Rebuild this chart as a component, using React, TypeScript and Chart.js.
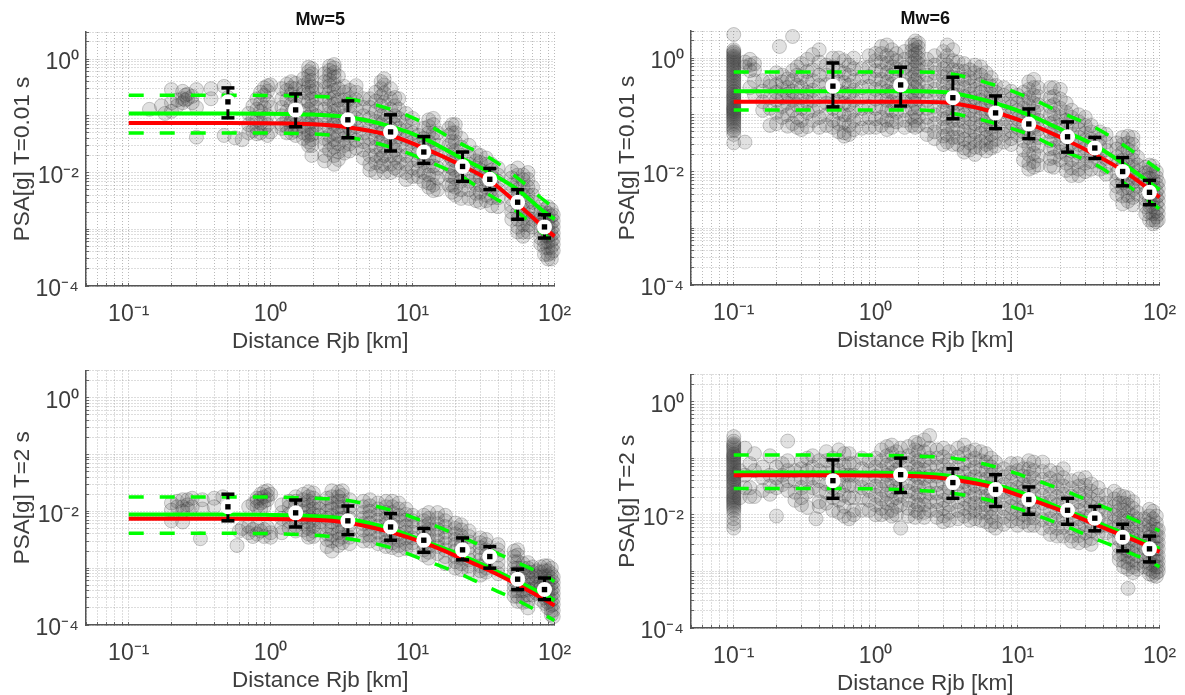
import React, { useEffect, useRef } from "react";
import { Chart, registerables } from "chart.js";

Chart.register(...registerables);

// distances of the binned statistics and of the read curve vertices
const binX = [0.5, 1.5, 3.5, 7, 12, 22.5, 35, 55, 85];
const curveX = [0.1, 0.5, 2, 3.5, 7, 12, 22, 35, 55, 85, 100];
const xTickValues = [0.05, 0.06, 0.07, 0.08, 0.09, 0.1, 0.2, 0.3, 0.4, 0.5, 0.6, 0.7, 0.8, 0.9, 1, 2, 3, 4, 5, 6, 7, 8, 9, 10, 20, 30, 40, 50, 60, 70, 80, 90, 100];
const yTickValues = [1e-4, 2e-4, 3e-4, 4e-4, 5e-4, 6e-4, 7e-4, 8e-4, 9e-4, 1e-3, 2e-3, 3e-3, 4e-3, 5e-3, 6e-3, 7e-3, 8e-3, 9e-3, 1e-2, 2e-2, 3e-2, 4e-2, 5e-2, 6e-2, 7e-2, 8e-2, 9e-2, 0.1, 0.2, 0.3, 0.4, 0.5, 0.6, 0.7, 0.8, 0.9, 1, 2, 3];
const xTickLabels: Record<string, string> = { "0.1": "10⁻¹", "1": "10⁰", "10": "10¹", "100": "10²" };
const yTickLabels: Record<string, string> = { "0.0001": "10⁻⁴", "0.01": "10⁻²", "1": "10⁰" };

// Mw=5, T=0.01 s
const a_mean = [0.176, 0.127, 0.085, 0.052, 0.023, 0.0128, 0.0076, 0.003, 0.0011];
const a_hi = [0.31, 0.243, 0.183, 0.104, 0.043, 0.023, 0.0118, 0.005, 0.0018];
const a_lo = [0.092, 0.064, 0.041, 0.024, 0.0145, 0.007, 0.005, 0.0015, 0.0007];
const a_red = [0.075, 0.075, 0.071, 0.063, 0.045, 0.027, 0.0135, 0.0072, 0.0028, 0.00105, 0.00075];
const a_green = [0.11, 0.11, 0.105, 0.095, 0.065, 0.04, 0.018, 0.01, 0.005, 0.002, 0.0015];
const a_up = [0.23, 0.23, 0.22, 0.2, 0.13, 0.075, 0.032, 0.018, 0.008, 0.0032, 0.0024];
const a_low = [0.05, 0.05, 0.048, 0.042, 0.028, 0.017, 0.0085, 0.004, 0.002, 0.0008, 0.0006];
const a_points = [[.14,.13],[.17,.15],[.18,.11],[.2,.29,.12,.17],[.22,.19,.15],[.24,.27,.2,.17],[.25,.23,.19],[.26,.2,.24],[.28,.17,.22],[.3,.29,.14,.042],[.38,.3,.2],[.47,.33,.045],[.5,.21],[.56,.041],[.63,.038],[.7,.11,.07,.05],[.75,.15,.09,.055],[.8,.2,.13,.085,.06,.048],[.85,.26,.17,.12,.075,.05],[.9,.31,.23,.14,.09,.06],[.95,.34,.27,.18,.1,.07,.045],[1,.35,.14,.052],[1.2,.3,.2,.14,.1,.07,.06],[1.3,.36,.28,.19,.12,.085,.065,.05],[1.4,.4,.31,.24,.16,.11,.08,.06,.05],[1.5,.37,.3,.21,.15,.1,.07,.055,.045],[1.7,.45,.34,.26,.18,.12,.09,.065,.05,.04],[1.85,.72,.6,.5,.4,.32,.25,.18,.13,.095,.07,.055,.045,.035,.03],[1.95,.68,.55,.42,.33,.27,.2,.15,.11,.08,.06,.047,.038,.03,.02],[2.1,.3,.2,.14,.1,.07,.05],[2.4,.55,.4,.3,.2,.13,.09,.06,.04,.03,.02,.016],[2.6,.75,.63,.52,.42,.34,.26,.2,.15,.11,.08,.06,.045,.035,.025],[2.8,.8,.7,.58,.48,.36,.28,.21,.16,.12,.09,.07,.05,.038,.028,.02,.014],[3,.5,.3,.19,.13,.09,.065,.045,.032,.023,.017],[3.3,.33,.26,.19,.14,.1,.075,.055,.04,.03,.022],[3.6,.28,.2,.15,.11,.08,.06,.045,.032,.024],[4,.34,.26,.19,.13,.09,.065,.05,.037,.027],[4.5,.2,.14,.1,.07,.05,.035,.025,.018],[5,.2,.14,.09,.06,.04,.03,.02,.014,.011],[5.5,.26,.18,.12,.08,.055,.04,.028,.02,.015,.01],[6,.4,.3,.22,.15,.1,.07,.05,.036,.025,.018,.013],[6.3,.45,.35,.25,.17,.11,.08,.055,.04,.028,.02,.014,.01],[7,.3,.2,.13,.09,.06,.04,.03,.02,.014,.01],[7.5,.21,.15,.1,.07,.05,.035,.025,.018,.012],[8,.2,.13,.09,.06,.043,.03,.02,.015,.011],[9,.11,.08,.055,.04,.028,.02,.014,.01,.0075],[10,.09,.07,.05,.035,.025,.017,.012,.0085],[11,.045,.03,.022,.016,.011,.0085],[12,.06,.04,.028,.02,.015,.01,.007],[13,.085,.065,.05,.035,.025,.018,.013,.009,.0065,.0055],[14,.09,.07,.05,.038,.026,.018,.013,.009,.006,.0048],[15,.05,.03,.02,.012,.008,.005],[18,.06,.045,.03,.02,.013,.009,.006],[19,.07,.05,.035,.025,.017,.012,.0085,.006,.0045],[20,.07,.05,.035,.024,.016,.011,.008,.0055,.004],[22,.04,.028,.02,.014,.01,.007,.005,.0035],[25,.03,.02,.014,.01,.007,.005,.0035],[28,.022,.016,.012,.0085,.006,.0043,.0032],[30,.02,.015,.011,.008,.006,.0045,.003],[33,.018,.014,.01,.0075,.0055,.004,.0032],[36,.014,.011,.0085,.0065,.005,.0036,.0026],[40,.012,.009,.007,.005,.0036,.0025],[50,.0105,.008,.006,.0045,.0034,.0026,.002,.0015],[55,.012,.009,.0068,.005,.0037,.0028,.002,.0015,.0011,.0009],[60,.009,.0075,.0055,.004,.003,.0022,.0016,.0012,.0009,.00075],[65,.01,.0075,.0055,.004,.003,.0022,.0016,.0012,.0009],[70,.0055,.004,.003,.002,.0015,.0011],[80,.0025,.002,.0015,.0012,.0009,.0007,.00055],[85,.0022,.0017,.0013,.001,.00078,.0006,.00048,.00036],[90,.0025,.0019,.0015,.0012,.00095,.00075,.0006,.00047,.00036,.0003],[95,.0022,.0017,.0013,.001,.0008,.00062,.00048,.00038,.0003],[98,.0018,.0014,.0011,.00085,.00068,.00054,.00042]];

// Mw=6, T=0.01 s
const b_mean = [0.32, 0.336, 0.2, 0.108, 0.069, 0.041, 0.026, 0.01, 0.0043];
const b_hi = [0.82, 0.69, 0.46, 0.215, 0.127, 0.075, 0.04, 0.0176, 0.007];
const b_lo = [0.138, 0.143, 0.085, 0.057, 0.038, 0.022, 0.017, 0.0056, 0.0026];
const b_red = [0.17, 0.17, 0.17, 0.16, 0.11, 0.07, 0.036, 0.02, 0.0105, 0.0048, 0.0035];
const b_green = [0.26, 0.26, 0.26, 0.24, 0.16, 0.1, 0.05, 0.029, 0.014, 0.0064, 0.0048];
const b_up = [0.57, 0.57, 0.57, 0.52, 0.33, 0.2, 0.1, 0.06, 0.03, 0.014, 0.0105];
const b_low = [0.122, 0.122, 0.122, 0.105, 0.07, 0.045, 0.022, 0.0135, 0.0065, 0.003, 0.0022];
const b_points = [[.1,2.6,1.4,1.3,1.25,1.18,1.1,1.05,1,.95,.9,.85,.8,.75,.7,.66,.62,.58,.55,.51,.48,.45,.42,.39,.37,.34,.32,.3,.28,.26,.25,.23,.22,.21,.2,.19,.18,.17,.16,.15,.145,.135,.13,.125,.12,.115,.11,.105,.1,.095,.09,.085,.08,.075,.07,.065,.06,.055,.052,.045,.032],[.12,.85,.7,.033],[.13,.95,.75,.6,.3],[.14,.8,.62,.4,.22],[.16,.4,.26,.17,.12],[.18,.38,.32,.2,.13,.065],[.2,.55,.34,.25,.18,.11,.07],[.21,1.6],[.22,.5,.38,.28,.2,.14,.09],[.24,.43,.3,.23,.16,.1,.063],[.26,2.4,.6,.4,.26,.18,.12,.07],[.28,.7,.5,.33,.21,.15,.09,.06],[.3,.8,.45,.3,.2,.13,.08,.055],[.33,.95,.58,.38,.25,.17,.11,.062],[.36,1.15,.62,.4,.27,.18,.12,.08],[.4,1.4,.85,.5,.33,.21,.14,.09,.06],[.45,.75,.5,.34,.24,.16,.1,.065],[.5,1,.7,.45,.3,.2,.13,.08,.06],[.55,1,.6,.38,.26,.17,.11,.07,.05],[.6,.9,.55,.37,.24,.16,.1,.075,.048,.042],[.65,.75,.5,.33,.23,.15,.1,.065,.045],[.7,1,.65,.4,.27,.18,.12,.08,.055],[.8,.65,.45,.3,.2,.13,.085,.058],[.9,1.1,.7,.47,.32,.21,.14,.09,.06],[1,1.2,.9,.6,.42,.28,.19,.13,.085,.06],[1.1,1.6,1.2,.85,.6,.42,.3,.2,.14,.09,.065],[1.2,1.7,1.1,.8,.55,.38,.26,.18,.12,.08,.055],[1.3,1.4,1,.7,.5,.35,.25,.17,.12,.08,.06],[1.4,1.2,.9,.65,.45,.32,.22,.16,.11,.075],[1.6,1.3,.95,.68,.48,.34,.24,.17,.12,.08,.06],[1.8,1.7,1.35,1.05,.8,.6,.45,.34,.25,.18,.13,.09,.065],[1.9,2,1.7,1.4,1.15,.9,.7,.52,.4,.3,.22,.16,.11,.08,.06],[2,1.85,1.55,1.25,1,.8,.62,.47,.35,.26,.19,.13,.09,.065],[2.3,.95,.7,.5,.36,.26,.18,.13,.09,.065,.045],[2.6,1.1,.75,.55,.4,.28,.2,.14,.1,.07,.05,.038],[3,1.3,.9,.65,.47,.34,.24,.17,.12,.085,.06,.042,.03],[3.2,1.7,1.1,.75,.52,.37,.26,.18,.13,.09,.062,.045,.033],[3.5,1.4,.9,.62,.45,.32,.23,.16,.11,.08,.056,.04,.03],[3.8,.85,.6,.44,.31,.22,.16,.11,.08,.056,.04,.03],[4.2,.8,.58,.42,.3,.21,.15,.1,.075,.052,.037,.026,.022],[4.6,.62,.45,.32,.23,.17,.12,.085,.06,.043,.032,.024],[5,.75,.55,.4,.28,.2,.14,.1,.07,.05,.036,.027,.02],[5.5,.7,.5,.35,.25,.18,.13,.09,.065,.047,.034,.026],[6,.55,.4,.28,.2,.15,.1,.075,.055,.04,.03,.023],[6.5,.45,.32,.23,.17,.12,.085,.06,.045,.033,.026],[7,.33,.25,.18,.13,.095,.07,.05,.037,.028],[8,.3,.22,.16,.115,.085,.06,.045,.033],[9,.26,.19,.14,.1,.072,.052,.038,.03],[10,.22,.16,.12,.085,.06,.044],[11,.25,.18,.13,.095,.07,.05,.035,.024,.016],[12,.38,.28,.2,.145,.1,.075,.055,.04,.028,.02,.014,.011],[13,.42,.3,.22,.16,.115,.085,.06,.043,.03,.021,.015,.012],[14,.3,.21,.15,.11,.08,.056,.04,.028,.019,.013],[17,.3,.2,.14,.1,.07,.05,.035,.025,.017,.0125],[18,.3,.21,.15,.105,.075,.052,.037,.026,.018,.012],[20,.28,.19,.13,.09,.065,.045,.032,.022,.016],[22,.16,.11,.08,.056,.04,.028,.02,.014,.0105],[24,.12,.09,.065,.045,.032,.023,.016,.0115,.0085],[27,.1,.075,.055,.04,.03,.021,.015,.011,.0085],[30,.09,.065,.048,.036,.026,.019,.014,.01],[33,.065,.05,.037,.028,.02,.015,.011],[38,.05,.037,.028,.02,.015,.011],[42,.045,.033,.024,.017,.012,.009],[50,.032,.025,.018,.013,.0095,.007,.0055,.004],[55,.04,.03,.022,.016,.012,.0088,.0065,.005,.0037,.0027],[60,.042,.032,.024,.017,.013,.0095,.007,.0052,.0038,.003],[65,.04,.03,.022,.016,.012,.0088,.0065,.0048,.0035,.0026],[70,.018,.013,.01,.0075,.0055,.004],[80,.012,.0095,.0072,.0055,.0042,.0032,.0024,.0018],[85,.013,.01,.0075,.0058,.0044,.0033,.0025,.0019,.0014],[90,.0125,.0095,.0072,.0055,.0042,.0032,.0024,.0018,.0014,.0012],[95,.01,.008,.006,.0045,.0035,.0027,.002,.0016,.0013],[98,.0065,.005,.0038,.003,.0023,.0018,.0014]];

// Mw=5, T=2 s
const c_mean = [0.012, 0.0094, 0.0068, 0.0053, 0.0031, 0.0021, 0.0016, 0.00064, 0.00042];
const c_hi = [0.02, 0.0158, 0.0124, 0.0091, 0.005, 0.0034, 0.0024, 0.00096, 0.00067];
const c_lo = [0.0068, 0.0053, 0.0039, 0.0031, 0.0019, 0.0014, 0.001, 0.00042, 0.00028];
const c_red = [0.0074, 0.0074, 0.0071, 0.0063, 0.0043, 0.0028, 0.0015, 0.0009, 0.00051, 0.00028, 0.00022];
const c_green = [0.0088, 0.0088, 0.0082, 0.0073, 0.0049, 0.003, 0.0017, 0.001, 0.00058, 0.00034, 0.00027];
const c_up = [0.0179, 0.0179, 0.017, 0.0155, 0.0105, 0.0066, 0.0036, 0.0021, 0.00125, 0.00075, 0.00058];
const c_low = [0.0041, 0.0041, 0.0038, 0.0033, 0.0023, 0.0014, 0.00078, 0.00045, 0.00027, 0.00015, 0.00012];
const c_points = [[.2,.014,.0105,.0068],[.22,.015,.012],[.24,.016,.012,.01,.0065],[.26,.016,.013,.011],[.28,.017,.012],[.32,.0033],[.33,.016,.011],[.4,.017,.012],[.46,.018],[.58,.0025],[.6,.0045],[.63,.005],[.7,.012,.0055,.0042],[.75,.0135,.0048,.0036],[.8,.017,.015,.012,.0055,.004],[.85,.02,.017,.014,.011,.0045],[.9,.022,.018,.015,.012,.0048,.0036],[.95,.023,.019,.016,.0052],[1,.02,.0042,.0035],[1.2,.013,.0095,.0075,.0052,.0042],[1.35,.015,.012,.009,.0068,.005],[1.5,.018,.015,.012,.0095,.007,.0055,.0045],[1.7,.02,.016,.013,.01,.0078,.006,.0047],[1.85,.022,.018,.015,.012,.01,.008,.0065,.005,.004,.0035],[2,.021,.017,.014,.011,.009,.007,.0055,.0045,.0036],[2.2,.014,.011,.0085,.0065,.005],[2.5,.017,.013,.01,.0075,.0055,.004,.0032,.0024],[2.7,.023,.018,.014,.011,.0085,.0065,.005,.0038,.003,.002],[3,.022,.018,.015,.012,.0095,.0072,.0055,.0042,.0032,.0025],[3.2,.023,.019,.015,.012,.0095,.0075,.0058,.0045,.0035,.0028],[3.6,.016,.012,.0095,.0075,.0058,.0045,.0035,.0027],[4.5,.015,.012,.0095,.0075,.006,.0047,.0037,.003],[5,.016,.0125,.01,.008,.0062,.0049,.0038,.003],[5.7,.014,.011,.0088,.007,.0055,.0043,.0034,.0027],[6.5,.015,.012,.0095,.0075,.006,.0047,.0037,.0029,.0024],[7.2,.015,.012,.0095,.0074,.0058,.0045,.0035,.0028,.0023],[8,.014,.011,.0085,.0068,.0052,.004,.0031,.0025,.0021],[9,.011,.0088,.007,.0055,.0043,.0034,.0027,.0022],[10,.0085,.0068,.0054,.0043,.0034,.0028,.0022],[12,.0085,.0068,.0054,.0043,.0034,.0027,.0021,.0017],[13,.0095,.0075,.006,.0048,.0038,.003,.0024,.0019,.0015],[15,.0095,.0075,.006,.0048,.0038,.003,.0024,.0018],[17,.0085,.0068,.0054,.0043,.0034,.0027,.0021,.0016,.0012],[20,.0062,.005,.004,.0032,.0026,.002,.0016,.0013,.001],[22,.0058,.0047,.0037,.003,.0024,.0019,.0015,.0012,.00095],[25,.0045,.0036,.0029,.0023,.0018,.0014,.0011,.0009],[30,.0034,.0028,.0023,.0018,.0014,.0011,.0009,.00075],[33,.0032,.0026,.0021,.0017,.0013,.001,.00085],[40,.0026,.0021,.0017,.0013,.001,.0008],[52,.002,.0016,.0013,.001,.0008,.00062,.0005,.0004,.00032],[55,.0021,.0017,.0013,.001,.00082,.00065,.0005,.0004,.00032,.00026],[60,.0012,.001,.0008,.00063,.0005,.0004,.00032,.00025],[65,.00125,.001,.00085,.00068,.00054,.00042,.00034,.00026,.0002],[70,.00105,.00085,.00068,.00054,.00043,.00034],[75,.0009,.00072,.00058,.00046,.00036],[80,.00105,.00085,.0007,.00055,.00045,.00036,.00028],[85,.0011,.0009,.00072,.00058,.00046,.00037,.0003,.00024],[90,.0011,.0009,.00073,.00059,.00048,.00039,.00031,.00025,.0002],[95,.001,.0008,.00065,.00052,.00042,.00034,.00027,.00022,.00018,.00015],[98,.0007,.00056,.00045,.00036,.00029,.00023,.00018,.00014]];

// Mw=6, T=2 s
const d_mean = [0.04, 0.051, 0.037, 0.028, 0.0186, 0.012, 0.0087, 0.004, 0.0025];
const d_hi = [0.093, 0.1, 0.065, 0.051, 0.031, 0.0195, 0.014, 0.0068, 0.0042];
const d_lo = [0.0195, 0.0247, 0.0195, 0.014, 0.0102, 0.0068, 0.0052, 0.0023, 0.00147];
const d_red = [0.05, 0.05, 0.048, 0.042, 0.03, 0.019, 0.011, 0.0068, 0.0043, 0.0027, 0.0022];
const d_green = [0.056, 0.056, 0.053, 0.048, 0.034, 0.022, 0.012, 0.0076, 0.0048, 0.003, 0.0025];
const d_up = [0.114, 0.114, 0.108, 0.1, 0.07, 0.045, 0.026, 0.016, 0.01, 0.0062, 0.0052];
const d_low = [0.029, 0.029, 0.027, 0.024, 0.017, 0.011, 0.0062, 0.0038, 0.0024, 0.0015, 0.0012];
const d_points = [[.1,.24,.2,.18,.17,.16,.15,.14,.13,.12,.115,.11,.105,.1,.095,.09,.085,.08,.075,.07,.066,.062,.058,.055,.052,.05,.047,.044,.042,.04,.037,.035,.033,.031,.029,.027,.025,.024,.022,.021,.02,.019,.018,.017,.016,.015,.014,.013,.012,.0105,.0085,.007,.0058],[.11,.06,.02],[.12,.15,.05,.03],[.13,.08,.03,.021],[.14,.12,.06,.021],[.16,.07,.045,.027],[.18,.11,.05,.032,.023],[.2,.07,.045,.03,.0095],[.22,.08,.05,.034],[.24,.09,.06,.04,.027,.2],[.27,.06,.04,.025,.018],[.3,.09,.065,.045,.03,.02,.015],[.33,.1,.06,.04,.025,.0135],[.36,.11,.07,.045,.03],[.38,.0085],[.4,.09,.06,.04,.027,.017,.014],[.45,.13,.09,.055,.035,.025,.016],[.5,.1,.07,.045,.03,.02,.012],[.55,.14,.09,.06,.04,.027,.018,.011],[.6,.12,.075,.05,.033,.022,.014,.0095],[.65,.12,.08,.05,.033,.02,.0085],[.7,.08,.05,.033,.02,.012,.01],[.8,.1,.065,.042,.03,.02,.012],[.9,.09,.06,.04,.027,.018,.012],[1,.1,.07,.048,.032,.022,.015,.01],[1.1,.14,.09,.06,.04,.028,.019,.013,.01],[1.2,.16,.11,.075,.05,.034,.023,.016,.011],[1.3,.17,.12,.08,.055,.038,.026,.018,.012,.0095],[1.4,.13,.09,.062,.043,.03,.02,.014,.01],[1.5,.15,.1,.07,.048,.032,.022,.015,.0058],[1.7,.16,.11,.08,.055,.037,.026,.018,.013,.0095],[1.9,.19,.14,.1,.07,.05,.034,.024,.017,.012,.009],[2,.18,.13,.09,.065,.045,.031,.022,.015,.011],[2.2,.21,.13,.09,.062,.044,.03,.021,.015,.011,.009],[2.4,.25,.15,.1,.07,.048,.034,.024,.017,.012],[2.7,.14,.1,.07,.048,.034,.024,.017,.012,.009],[3,.15,.105,.074,.052,.036,.025,.018,.013,.0095,.0075],[3.3,.13,.09,.062,.043,.03,.021,.015,.011,.008],[3.8,.15,.105,.07,.05,.035,.025,.017,.012,.0085],[4.2,.17,.12,.08,.055,.038,.027,.019,.013,.0095],[4.6,.13,.09,.06,.042,.03,.021,.015,.011,.008],[5,.14,.1,.068,.047,.033,.023,.016,.012,.0085],[5.5,.13,.09,.062,.043,.03,.021,.015,.011,.008],[6,.12,.085,.06,.042,.03,.021,.015,.011,.0075],[6.5,.1,.07,.05,.035,.025,.018,.013,.009,.0065],[7,.085,.06,.043,.03,.021,.015,.011,.0075,.0058],[8,.065,.047,.034,.025,.018,.013,.009,.0068],[9,.08,.055,.04,.028,.02,.014,.0105,.0078],[10,.08,.06,.042,.03,.022,.016,.012,.0085,.0065],[11,.065,.048,.035,.026,.019,.014,.01,.0075],[12,.09,.065,.047,.034,.024,.017,.012,.0088,.0065],[13,.085,.06,.044,.032,.023,.017,.012,.0088,.0065],[15,.085,.058,.042,.03,.022,.016,.011,.0082,.0058],[17,.06,.044,.032,.023,.017,.012,.0085,.006,.0045],[19,.055,.04,.03,.021,.015,.011,.008,.0058,.0042],[21,.065,.045,.032,.023,.017,.012,.0085,.006,.0042],[24,.04,.029,.021,.015,.011,.008,.0058,.0042,.0034],[27,.043,.032,.023,.017,.012,.0085,.006,.0043,.0032],[30,.045,.033,.024,.018,.013,.0092,.0067,.0048,.0035],[33,.035,.026,.019,.014,.01,.0072,.0052,.0038,.003],[37,.03,.022,.016,.012,.0085,.006,.0045],[42,.022,.016,.012,.0088,.0065,.0048],[48,.026,.019,.014,.01,.0075,.0055,.004],[52,.022,.016,.012,.0088,.0065,.0048,.0036,.0027,.002,.0016],[56,.021,.016,.012,.0086,.0062,.0046,.0034,.0026,.002,.0015,.0012],[60,.02,.015,.011,.008,.0058,.0042,.0031,.0023,.0018,.0014,.0011,.0005],[65,.017,.013,.0095,.007,.005,.0037,.0028,.0021,.0016,.0012,.00095],[70,.011,.0085,.0062,.0046,.0034,.0025,.0019,.0014,.0011],[78,.0085,.0065,.0048,.0036,.0027,.002,.0015,.0012],[85,.0125,.0095,.007,.0053,.004,.003,.0023,.0018,.0014,.0011,.0009],[90,.0115,.0085,.0065,.005,.0037,.0028,.0021,.0016,.0013,.001,.00085],[95,.0095,.0072,.0055,.0042,.0032,.0025,.0019,.0015,.0012,.00095,.00082],[98,.0055,.0042,.0032,.0025,.0019,.0015,.0012,.001]];

const panels = [
  { title: "Mw=5", yLabel: "PSA[g] T=0.01 s", mean: a_mean, hi: a_hi, lo: a_lo, red: a_red, green: a_green, up: a_up, low: a_low, points: a_points,
    box: { x: 0, y: 0, w: 600, h: 356 }, plot: { l: 86, r: 554.5, t: 32, b: 286 } },
  { title: "Mw=6", yLabel: "PSA[g] T=0.01 s", mean: b_mean, hi: b_hi, lo: b_lo, red: b_red, green: b_green, up: b_up, low: b_low, points: b_points,
    box: { x: 600, y: 0, w: 585, h: 356 }, plot: { l: 691, r: 1159.5, t: 31, b: 285 } },
  { title: "", yLabel: "PSA[g] T=2 s", mean: c_mean, hi: c_hi, lo: c_lo, red: c_red, green: c_green, up: c_up, low: c_low, points: c_points,
    box: { x: 0, y: 356, w: 600, h: 339 }, plot: { l: 86, r: 554.5, t: 370.5, b: 625 } },
  { title: "", yLabel: "PSA[g] T=2 s", mean: d_mean, hi: d_hi, lo: d_lo, red: d_red, green: d_green, up: d_up, low: d_low, points: d_points,
    box: { x: 600, y: 356, w: 585, h: 339 }, plot: { l: 691, r: 1159.5, t: 374.5, b: 628 } },
];

const FONT = "'Liberation Sans', Arial, sans-serif";
const TEXT = "#3d3d3d";

function makeChart(canvas: HTMLCanvasElement, p: any) {
  const xAxisH = 67;
  const yAxisW = 74.5;
  const titleH = p.title ? p.plot.t - p.box.y : 0;
  const curve = (values: number[]) => curveX.map((x, i) => ({ x, y: values[i] }));
  const bins = (values: number[]) => binX.map((x, i) => ({ x, y: values[i] }));
  const stems = binX.flatMap((x, i) => [{ x, y: p.lo[i] }, { x, y: p.hi[i] }, { x, y: NaN }]);
  const scatter = p.points.flatMap(([x, ...ys]: number[]) => ys.map((y) => ({ x, y })));
  const marker = (data: any[], style: string, radius: number, color: string, border = 0) => ({
    data, showLine: false, pointStyle: style, pointRadius: radius, pointBackgroundColor: color,
    pointBorderColor: color, pointBorderWidth: border, clip: false,
  });
  const line = (data: any[], color: string, width: number, dash: number[] = []) => ({
    data, showLine: true, borderColor: color, borderWidth: width, borderDash: dash, pointRadius: 0,
    cubicInterpolationMode: "monotone", clip: false,
  });
  const gridStyle = { color: "rgba(140,140,140,0.6)", tickColor: "#666666", tickLength: -3, lineWidth: 1 };
  const borderStyle = { color: "#555555", width: 1.5, dash: [1, 2] };
  const zeroPadding = (s: any) => { s.paddingLeft = 0; s.paddingRight = 0; s.paddingTop = 0; s.paddingBottom = 0; };
  return new Chart(canvas, {
    type: "scatter",
    data: {
      datasets: [
        marker(bins(p.mean), "rect", 3.8, "#000000"),
        marker(bins(p.mean), "circle", 7.5, "#ffffff"),
        marker(bins(p.hi), "line", 6.5, "#000000", 3.5),
        marker(bins(p.lo), "line", 6.5, "#000000", 3.5),
        { data: stems, showLine: true, borderColor: "#000000", borderWidth: 3, pointRadius: 0, spanGaps: false, tension: 0, clip: false },
        line(curve(p.red), "#ff0000", 4),
        line(curve(p.green), "#00ff00", 4),
        line(curve(p.up), "#00ff00", 3.5, [15, 16]),
        line(curve(p.low), "#00ff00", 3.5, [15, 16]),
        {
          data: scatter, showLine: false, pointStyle: "circle", pointRadius: 7,
          pointBackgroundColor: "rgba(70,70,70,0.16)", pointBorderColor: "rgba(50,50,50,0.25)", pointBorderWidth: 1, clip: false,
        },
      ] as any,
    },
    options: {
      animation: false,
      responsive: false,
      events: [],
      layout: {
        autoPadding: false,
        padding: {
          left: p.plot.l - p.box.x - yAxisW,
          right: p.box.x + p.box.w - p.plot.r,
          top: p.title ? 0 : p.plot.t - p.box.y,
          bottom: p.box.y + p.box.h - p.plot.b - xAxisH,
        },
      },
      plugins: {
        legend: { display: false },
        tooltip: { enabled: false },
        title: {
          display: !!p.title,
          text: p.title,
          fullSize: false,
          color: "#111111",
          font: { family: FONT, size: 18, weight: "bold", lineHeight: 1 },
          padding: { top: titleH - 21, bottom: 3 },
        },
      },
      scales: {
        x: {
          type: "logarithmic",
          min: 0.05,
          max: 100,
          afterBuildTicks: (s: any) => { s.ticks = xTickValues.map((value) => ({ value })); },
          afterFit: (s: any) => { s.height = xAxisH; zeroPadding(s); },
          border: borderStyle,
          grid: gridStyle,
          ticks: {
            autoSkip: false, maxRotation: 0, minRotation: 0, padding: 18, color: TEXT,
            font: { family: FONT, size: 23 },
            callback: (v: any) => xTickLabels[String(v)] ?? "",
          },
          title: { display: true, text: "Distance Rjb [km]", color: TEXT, padding: 0, font: { family: FONT, size: 22.5, lineHeight: 1 } },
        },
        y: {
          type: "logarithmic",
          min: 1e-4,
          max: 3,
          afterBuildTicks: (s: any) => { s.ticks = yTickValues.map((value) => ({ value })); },
          afterFit: (s: any) => { s.width = yAxisW; zeroPadding(s); },
          border: borderStyle,
          grid: gridStyle,
          ticks: {
            autoSkip: false, padding: 10, labelOffset: 4, color: TEXT,
            font: { family: FONT, size: 23 },
            callback: (v: any) => yTickLabels[String(v)] ?? "",
          },
          title: { display: true, text: p.yLabel, color: TEXT, padding: 0, font: { family: FONT, size: 22.5, lineHeight: 1 } },
        },
      },
    } as any,
  });
}

export default function App() {
  const refs = useRef<(HTMLCanvasElement | null)[]>([]);
  useEffect(() => {
    const charts = panels.map((p, i) => makeChart(refs.current[i] as HTMLCanvasElement, p));
    return () => charts.forEach((c) => c.destroy());
  }, []);
  return (
    <div>
      {panels.map((p, i) => (
        <canvas
          key={i}
          ref={(el) => { refs.current[i] = el; }}
          width={p.box.w}
          height={p.box.h}
          style={{ position: "absolute", left: p.box.x, top: p.box.y, width: p.box.w, height: p.box.h, filter: "blur(0.4px)" }}
        />
      ))}
    </div>
  );
}
